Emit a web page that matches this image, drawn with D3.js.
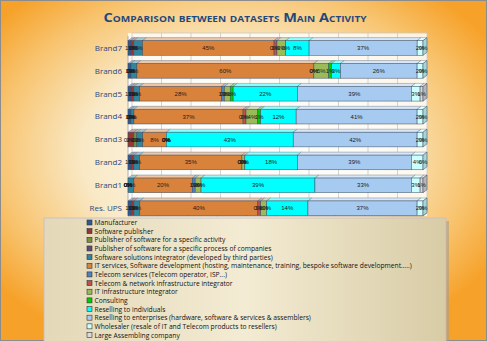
<!DOCTYPE html>
<html><head><meta charset="utf-8">
<script src="https://cdn.jsdelivr.net/npm/d3@7"></script>
<style>html,body{margin:0;padding:0;overflow:hidden;background:#fff}</style>
</head><body><svg id="c" width="487" height="341"></svg>
<script>
const brands = ["Brand7","Brand6","Brand5","Brand4","Brand3","Brand2","Brand1","Res. UPS"];
const categories = [
 "Manufacturer",
 "Software publisher",
 "Publisher of software for a specific activity",
 "Publisher of software for a specific process of companies",
 "Software solutions integrator (developed by third parties)",
 "IT services, Software development (hosting, maintenance, training, bespoke software development.....)",
 "Telecom services (Telecom operator, ISP...)",
 "Telecom & network infrastructure integrator",
 "IT infrastructure integrator",
 "Consulting",
 "Reselling to individuals",
 "Reselling to enterprises (hardware, software & services & assemblers)",
 "Wholesaler (resale of IT and Telecom products to resellers)",
 "Large Assembling company"
];
const colors = ["#2D5A96","#953735","#77933C","#604A7B","#31859C","#D9823B","#4F81BD","#C0504D","#9BBB59","#00CC00","#00FFFF","#A6CAF0","#CCFFFF","#D9D9D9"];
// values per brand, in category order (%)
const brand7 = [1,1,0,0,3,45,0,1,3,0,8,37,2,0];
const brand6 = [1,0,0,0,2,60,0,0,5,1,3,26,2,0];
const brand5 = [1,1,0,0,2,28,1,0,2,1,22,39,3,1];
const brand4 = [1,0,0,0,1,37,0,1,4,1,12,41,2,0];
const brand3 = [0,2,1,0,2,8,0,0,0,0,43,42,2,0];
const brand2 = [1,1,0,0,2,35,0,0,1,0,18,39,4,0];
const brand1 = [0,0,0,0,2,20,1,0,2,0,39,33,3,1];
const resUPS = [1,1,0,0,2,40,0,1,2,0,14,37,2,0];
const seriesValues = [brand7,brand6,brand5,brand4,brand3,brand2,brand1,resUPS];
const xTicks = [0,0.1,0.2,0.3,0.4,0.5,0.6,0.7,0.8,0.9,1];

const svg = d3.select("#c");
const W=487,H=341;
const defs = svg.append("defs");
const rg = defs.append("radialGradient").attr("id","bg").attr("cx","48%").attr("cy","45%").attr("r","62%");
rg.append("stop").attr("offset","0%").attr("stop-color","#FDFBF3");
rg.append("stop").attr("offset","50%").attr("stop-color","#F9E9C6");
rg.append("stop").attr("offset","78%").attr("stop-color","#F8C572");
rg.append("stop").attr("offset","100%").attr("stop-color","#F6A22A");
svg.append("rect").attr("width",W).attr("height",H).attr("fill","url(#bg)");
svg.append("rect").attr("x",0.5).attr("y",0.5).attr("width",W-1).attr("height",H-1).attr("fill","none").attr("stroke","#8C8C8C");

const lg = defs.append("linearGradient").attr("id","lg").attr("x1","0").attr("x2","1").attr("y1","0").attr("y2","0");
lg.append("stop").attr("offset","0%").attr("stop-color","#E3D9B8");
lg.append("stop").attr("offset","50%").attr("stop-color","#F3EBD3");
lg.append("stop").attr("offset","100%").attr("stop-color","#D8CCA6");

// title
svg.append("text").attr("x",235).attr("y",22).attr("text-anchor","middle")
 .attr("font-family","Open Sans, DejaVu Sans, sans-serif").attr("font-weight","bold")
 .attr("font-size",13).style("font-variant","small-caps").attr("fill","#1F497D")
 .attr("textLength",263).attr("lengthAdjust","spacingAndGlyphs")
 .text("Comparison between datasets Main Activity");

const x = d3.scaleLinear().domain([0,1]).range([128,423]);
const y = d3.scaleBand().domain(brands).range([36.5,219.7]).paddingInner(0.36).paddingOuter(0.18);
const dx=4, dy=3;

// plot wall
svg.append("rect").attr("x",x(0)).attr("y",33).attr("width",x(1)-x(0)+dx).attr("height",183)
 .attr("fill","#FFFFFF").attr("fill-opacity",0.8);
svg.append("g").selectAll("line").data(xTicks).join("line")
 .attr("x1",d=>x(d)+dx).attr("x2",d=>x(d)+dx).attr("y1",33).attr("y2",213)
 .attr("stroke","#C8C8C8").attr("stroke-width",0.8);
svg.append("g").selectAll("line").data(xTicks).join("line")
 .attr("x1",d=>x(d)+dx).attr("x2",d=>x(d)).attr("y1",213).attr("y2",216)
 .attr("stroke","#A0A0A0").attr("stroke-width",0.8);
svg.append("line").attr("x1",x(0)).attr("x2",x(1)).attr("y1",216).attr("y2",216).attr("stroke","#A0A0A0").attr("stroke-width",0.8);
svg.append("line").attr("x1",x(0)).attr("x2",x(0)).attr("y1",36).attr("y2",216).attr("stroke","#A0A0A0").attr("stroke-width",0.8);
svg.append("line").attr("x1",x(0)+dx).attr("x2",x(1)+dx).attr("y1",33).attr("y2",33).attr("stroke","#C8C8C8").attr("stroke-width",0.8);

// stack
const rows = brands.map((b,i)=>{const o={brand:b}; categories.forEach((c,j)=>o[c]=seriesValues[i][j]); return o;});
const stack = d3.stack().keys(categories).offset(d3.stackOffsetExpand);
const series = stack(rows);

const gBars = svg.append("g");
series.forEach((s,si)=>{
  const col = colors[si];
  const light = d3.interpolateRgb(col,"#ffffff")(0.55);
  s.forEach(d=>{
    const b=d.data.brand, x0=x(d[0]), x1=x(d[1]), yt=y(b), h=y.bandwidth();
    if (x1-x0<=0) return;
    gBars.append("path").attr("d",`M${x0},${yt}L${x0+dx},${yt-dy}L${x1+dx},${yt-dy}L${x1},${yt}Z`)
      .attr("fill",light).attr("stroke","#5a6a80").attr("stroke-width",0.4);
    gBars.append("rect").attr("x",x0).attr("y",yt).attr("width",x1-x0).attr("height",h)
      .attr("fill",col).attr("stroke","#3a4a60").attr("stroke-width",0.5);
  });
});
brands.forEach((b,i)=>{
  const yt=y(b), h=y.bandwidth();
  let last=null; series.forEach((s,si)=>{ if (s[i][1]-s[i][0]>0) last={si,d:s[i]}; });
  const col=colors[last.si];
  gBars.append("path").attr("d",`M${x(1)},${yt}L${x(1)+dx},${yt-dy}L${x(1)+dx},${yt-dy+h}L${x(1)},${yt+h}Z`)
   .attr("fill",d3.color(col).darker(0.5)).attr("stroke","#3a4a60").attr("stroke-width",0.5);
});

// data labels
const gLab = svg.append("g").attr("font-family","Liberation Sans, Arial, sans-serif").attr("font-size",6).attr("fill","#1a1a1a").attr("text-anchor","middle");
series.forEach((s,si)=>{
  s.forEach((d,bi)=>{
    const b=d.data.brand;
    gLab.append("text").attr("x",(x(d[0])+x(d[1]))/2).attr("y",y(b)+y.bandwidth()/2+2)
      .text(seriesValues[bi][si]+"%");
  });
});

// y axis labels
svg.append("g").attr("font-family","Open Sans, DejaVu Sans, sans-serif").attr("font-size",8).attr("fill","#2B4A7A").attr("text-anchor","end")
 .selectAll("text").data(brands).join("text").attr("x",122).attr("y",b=>y(b)+y.bandwidth()/2+2.8).text(b=>b);

// legend box
svg.append("rect").attr("x",47).attr("y",221).attr("width",402).attr("height",125).attr("fill","#A89F88").attr("opacity",0.6);
svg.append("rect").attr("x",44).attr("y",218).attr("width",402).attr("height",125).attr("fill","url(#lg)").attr("stroke","#C9B9C9").attr("stroke-width",0.8);
const ly = d3.scalePoint().domain(categories).range([222.5,335]);
const gl = svg.append("g");
gl.selectAll("rect").data(categories).join("rect")
 .attr("x",87).attr("y",c=>ly(c)-2.5).attr("width",5).attr("height",5)
 .attr("fill",(c,i)=>colors[i]).attr("stroke","#333").attr("stroke-width",0.6);
gl.selectAll("text").data(categories).join("text")
 .attr("x",94.5).attr("y",c=>ly(c)+2.6).attr("font-family","Open Sans, DejaVu Sans, sans-serif").attr("font-size",6.7)
 .attr("fill","#111").text(c=>c);
</script></body></html>
